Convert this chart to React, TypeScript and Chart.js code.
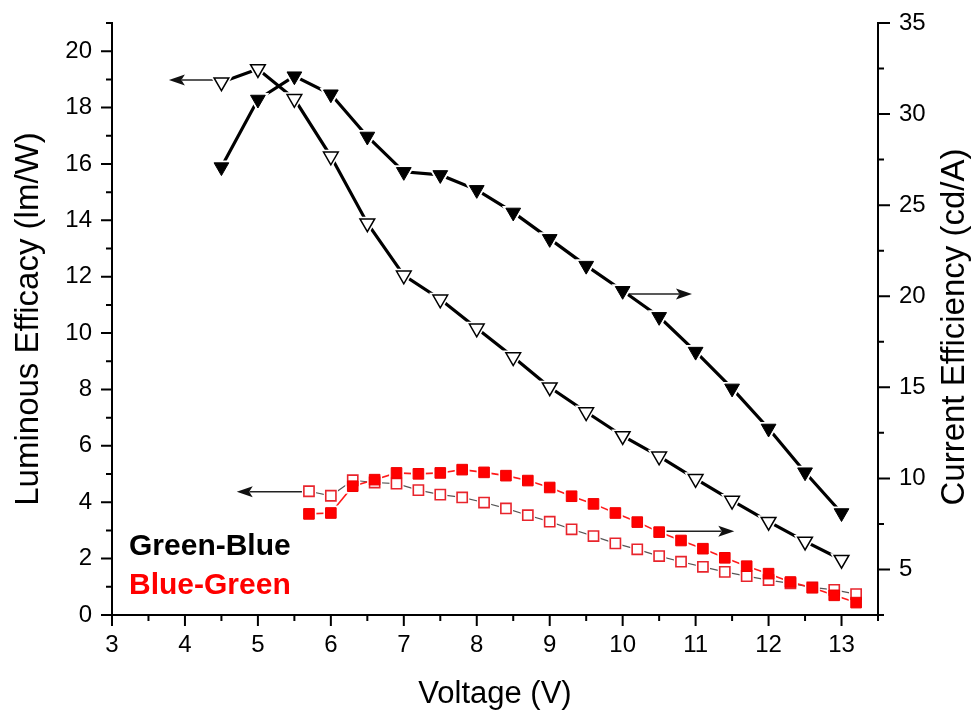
import React, { useEffect, useRef } from 'react';
import { Chart, registerables } from 'chart.js';

Chart.register(...registerables);

// ---- Data ----
// Green-Blue device
const gbVoltage = [4.5, 5, 5.5, 6, 6.5, 7, 7.5, 8, 8.5, 9, 9.5, 10, 10.5, 11, 11.5, 12, 12.5, 13];
const gbLuminousEfficacy = [18.9, 19.37, 18.31, 16.27, 13.9, 12.05, 11.2, 10.17, 9.15, 8.08, 7.2, 6.35, 5.63, 4.83, 4.06, 3.31, 2.61, 1.96];
const gbCurrentEfficiency = [27.09, 30.8, 32.08, 31.09, 28.77, 26.83, 26.66, 25.84, 24.6, 23.15, 21.68, 20.3, 18.87, 16.96, 14.94, 12.74, 10.34, 8.1];

// Blue-Green device
const bgVoltage = [5.7, 6.0, 6.3, 6.6, 6.9, 7.2, 7.5, 7.8, 8.1, 8.4, 8.7, 9.0, 9.3, 9.6, 9.9, 10.2, 10.5, 10.8, 11.1, 11.4, 11.7, 12.0, 12.3, 12.6, 12.9, 13.2];
const bgLuminousEfficacy = [4.39, 4.23, 4.78, 4.7, 4.66, 4.43, 4.27, 4.17, 3.99, 3.78, 3.54, 3.31, 3.04, 2.8, 2.54, 2.33, 2.09, 1.89, 1.71, 1.53, 1.38, 1.24, 1.12, 0.98, 0.89, 0.74];
const bgCurrentEfficiency = [8.05, 8.1, 9.57, 9.93, 10.3, 10.25, 10.3, 10.48, 10.33, 10.15, 9.88, 9.5, 9.02, 8.6, 8.1, 7.6, 7.05, 6.59, 6.14, 5.64, 5.18, 4.77, 4.31, 4.0, 3.58, 3.18];

// Axes
const xTicks = [3, 4, 5, 6, 7, 8, 9, 10, 11, 12, 13];
const leftTicks = [0, 2, 4, 6, 8, 10, 12, 14, 16, 18, 20];
const rightTicks = [5, 10, 15, 20, 25, 30, 35];
const xRange = [3, 13.5];
const leftRange = [0, 21];
const rightRange = [2.5, 35];

// Arrow annotations (which axis each refers to, start x, tip x, y)
const arrowAxes = ['y', 'y1', 'y', 'y1'];
const arrowFromX = [4.45, 10.05, 5.7, 10.5];
const arrowToX = [3.78, 10.95, 4.71, 11.53];
const arrowY = [18.98, 20.12, 4.37, 7.1];

const labelTexts = ['Green-Blue', 'Blue-Green'];
const labelColors = ['#000000', '#ff0000'];

const FONT = "'Liberation Sans', Arial, Helvetica, sans-serif";

const toXY = (xs: number[], ys: number[]) => xs.map((x, i) => ({ x, y: ys[i] }));

const minorOf = (majors: number[], min: number, max: number) => {
  const step = majors[1] - majors[0];
  const out: number[] = [];
  for (let i = -1; i < majors.length; i++) {
    const v = (i < 0 ? majors[0] - step : majors[i]) + step / 2;
    if (v >= min - 1e-9 && v <= max + 1e-9) out.push(v);
  }
  return out;
};

// One series -> line layer, white halo layer (gap round markers), marker layer
function seriesDatasets(cfg: {
  label: string; xs: number[]; ys: number[]; axis: string;
  lineColor: string; lineWidth: number;
  style: string; rotation: number; radius: number; haloRadius: number;
  fill: string; stroke: string; strokeWidth: number;
}) {
  const data = toXY(cfg.xs, cfg.ys);
  return [
    {
      label: cfg.label + ' line', data, yAxisID: cfg.axis, order: 3,
      borderColor: cfg.lineColor, borderWidth: cfg.lineWidth, pointRadius: 0, tension: 0, fill: false,
    },
    {
      label: cfg.label + ' halo', data, yAxisID: cfg.axis, order: 2, showLine: false,
      pointStyle: cfg.style, pointRotation: cfg.rotation, pointRadius: cfg.haloRadius,
      pointBackgroundColor: '#ffffff', pointBorderColor: '#ffffff', pointBorderWidth: 0,
    },
    {
      label: cfg.label, data, yAxisID: cfg.axis, order: 1, showLine: false,
      pointStyle: cfg.style, pointRotation: cfg.rotation, pointRadius: cfg.radius,
      pointBackgroundColor: cfg.fill, pointBorderColor: cfg.stroke, pointBorderWidth: cfg.strokeWidth,
    },
  ];
}

const axesPlugin = {
  id: 'originAxes',
  beforeDatasetsDraw(chart: any) {
    const { ctx, scales } = chart;
    ctx.save();
    ctx.strokeStyle = '#222';
    ctx.fillStyle = '#111';
    ctx.lineWidth = 1.4;
    for (let i = 0; i < arrowAxes.length; i++) {
      const ys = scales[arrowAxes[i]];
      const x0 = scales.x.getPixelForValue(arrowFromX[i]);
      const x1 = scales.x.getPixelForValue(arrowToX[i]);
      const y = ys.getPixelForValue(arrowY[i]);
      const dir = x1 > x0 ? 1 : -1;
      const headLen = 16;
      ctx.beginPath();
      ctx.moveTo(x0, y);
      ctx.lineTo(x1 - dir * headLen * 0.8, y);
      ctx.stroke();
      ctx.beginPath();
      ctx.moveTo(x1, y);
      ctx.lineTo(x1 - dir * headLen, y - 5.5);
      ctx.lineTo(x1 - dir * headLen * 0.78, y);
      ctx.lineTo(x1 - dir * headLen, y + 5.5);
      ctx.closePath();
      ctx.fill();
    }
    ctx.restore();
  },
  afterDraw(chart: any) {
    const { ctx, chartArea: ca, scales } = chart;
    const sx = scales.x, sy = scales.y, sy1 = scales.y1;
    ctx.save();
    ctx.strokeStyle = '#000';
    ctx.lineWidth = 2;
    ctx.lineCap = 'butt';
    ctx.beginPath();
    ctx.moveTo(ca.left, ca.top - 1);
    ctx.lineTo(ca.left, ca.bottom);
    ctx.lineTo(ca.right, ca.bottom);
    ctx.moveTo(ca.right, ca.top - 1);
    ctx.lineTo(ca.right, ca.bottom + 1);
    ctx.stroke();

    const MAJ = 11, MIN = 6;
    ctx.beginPath();
    xTicks.forEach(v => { const p = sx.getPixelForValue(v); ctx.moveTo(p, ca.bottom); ctx.lineTo(p, ca.bottom + MAJ); });
    minorOf(xTicks, xRange[0], xRange[1]).forEach(v => { const p = sx.getPixelForValue(v); ctx.moveTo(p, ca.bottom); ctx.lineTo(p, ca.bottom + MIN); });
    leftTicks.forEach(v => { const p = sy.getPixelForValue(v); ctx.moveTo(ca.left, p); ctx.lineTo(ca.left - MAJ, p); });
    minorOf(leftTicks, leftRange[0], leftRange[1]).forEach(v => { const p = sy.getPixelForValue(v); ctx.moveTo(ca.left, p); ctx.lineTo(ca.left - MIN, p); });
    rightTicks.forEach(v => { const p = sy1.getPixelForValue(v); ctx.moveTo(ca.right, p); ctx.lineTo(ca.right + MAJ + 1, p); });
    minorOf(rightTicks, rightRange[0], rightRange[1]).forEach(v => { const p = sy1.getPixelForValue(v); ctx.moveTo(ca.right, p); ctx.lineTo(ca.right + MIN, p); });
    ctx.stroke();

    // right axis title (reads bottom-to-top, like the left one)
    ctx.fillStyle = '#000';
    ctx.font = `33px ${FONT}`;
    ctx.textAlign = 'center';
    ctx.textBaseline = 'middle';
    ctx.save();
    ctx.translate(955, (ca.top + ca.bottom) / 2 + 8);
    ctx.rotate(-Math.PI / 2);
    ctx.fillText('Current Efficiency (cd/A)', 0, 0);
    ctx.restore();

    // series labels
    ctx.font = `bold 30px ${FONT}`;
    ctx.textAlign = 'left';
    ctx.textBaseline = 'alphabetic';
    labelTexts.forEach((t, i) => {
      ctx.fillStyle = labelColors[i];
      ctx.fillText(t, ca.left + 17, 555 + i * 39);
    });
    ctx.restore();
  },
};

export default function App() {
  const ref = useRef<HTMLCanvasElement | null>(null);

  useEffect(() => {
    if (!ref.current) return;
    const tickFont = { family: FONT, size: 24 };
    const datasets = [
      ...seriesDatasets({
        label: 'Green-Blue current efficiency', xs: gbVoltage, ys: gbCurrentEfficiency, axis: 'y1',
        lineColor: '#000', lineWidth: 3.2, style: 'triangle', rotation: 180, radius: 8.5, haloRadius: 13,
        fill: '#000', stroke: '#000', strokeWidth: 1,
      }),
      ...seriesDatasets({
        label: 'Green-Blue luminous efficacy', xs: gbVoltage, ys: gbLuminousEfficacy, axis: 'y',
        lineColor: '#000', lineWidth: 3.2, style: 'triangle', rotation: 180, radius: 8.5, haloRadius: 13,
        fill: '#fff', stroke: '#000', strokeWidth: 1.5,
      }),
      ...seriesDatasets({
        label: 'Blue-Green current efficiency', xs: bgVoltage, ys: bgCurrentEfficiency, axis: 'y1',
        lineColor: '#ff1a1a', lineWidth: 1.6, style: 'rect', rotation: 0, radius: 7.5, haloRadius: 10.5,
        fill: '#ff0000', stroke: '#ee0000', strokeWidth: 1,
      }),
      ...seriesDatasets({
        label: 'Blue-Green luminous efficacy', xs: bgVoltage, ys: bgLuminousEfficacy, axis: 'y',
        lineColor: '#555', lineWidth: 1.2, style: 'rect', rotation: 0, radius: 7.2, haloRadius: 10,
        fill: '#fff', stroke: '#e8242c', strokeWidth: 1.6,
      }),
    ];
    // within one layer the first dataset is drawn on top: filled red squares over open ones
    const chart = new Chart(ref.current, {
      type: 'line',
      data: { datasets },
      options: {
        animation: false,
        responsive: false,
        events: [],
        layout: { padding: { top: 23, left: 0, right: 0, bottom: 0 } },
        plugins: { legend: { display: false }, tooltip: { enabled: false } },
        scales: {
          x: {
            type: 'linear',
            position: 'bottom',
            min: xRange[0],
            max: xRange[1],
            afterBuildTicks: (s: any) => { s.ticks = xTicks.map(v => ({ value: v })); },
            afterFit: (s: any) => { s.height = 98; },
            grid: { display: false, drawTicks: true, tickLength: 16 },
            border: { display: false },
            ticks: { font: tickFont, color: '#000', padding: 0, maxRotation: 0, autoSkip: false },
            title: { display: true, text: 'Voltage (V)', font: { family: FONT, size: 31 }, color: '#000', padding: { top: 0, bottom: 0 } },
          },
          y: {
            type: 'linear',
            position: 'left',
            min: leftRange[0],
            max: leftRange[1],
            afterBuildTicks: (s: any) => { s.ticks = leftTicks.map(v => ({ value: v })); },
            afterFit: (s: any) => { s.width = 112; },
            grid: { display: false, drawTicks: true, tickLength: 20 },
            border: { display: false },
            ticks: { font: tickFont, color: '#000', padding: 0, autoSkip: false },
            title: { display: true, text: 'Luminous Efficacy (lm/W)', font: { family: FONT, size: 33 }, color: '#000', padding: { top: 9, bottom: 0 } },
          },
          y1: {
            type: 'linear',
            position: 'right',
            min: rightRange[0],
            max: rightRange[1],
            afterBuildTicks: (s: any) => { s.ticks = rightTicks.map(v => ({ value: v })); },
            afterFit: (s: any) => { s.width = 95; },
            grid: { display: false, drawTicks: true, tickLength: 21 },
            border: { display: false },
            ticks: { font: tickFont, color: '#000', padding: 0, autoSkip: false },
          },
        },
      },
      plugins: [axesPlugin],
    } as any);
    return () => chart.destroy();
  }, []);

  return (
    <div style={{ position: 'fixed', left: 0, top: 0, width: 973, height: 713, background: '#fff' }}>
      <canvas ref={ref} width={973} height={713} style={{ display: 'block' }} />
    </div>
  );
}
